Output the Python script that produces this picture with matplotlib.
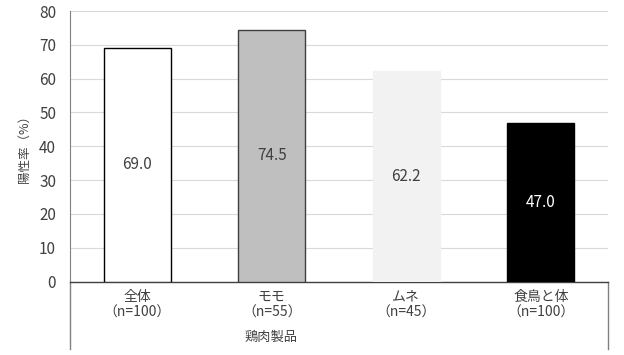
import matplotlib
matplotlib.use('Agg')
import matplotlib.pyplot as plt

plt.rcParams['font.family'] = ['Noto Sans CJK JP', 'DejaVu Sans']

# data
categories = ['全体\n（n=100）', 'モモ\n（n=55）', 'ムネ\n（n=45）', '食鳥と体\n（n=100）']
rates = [69.0, 74.5, 62.2, 47.0]
bar_colors = ['#ffffff', '#bfbfbf', '#f2f2f2', '#000000']
edge_colors = ['#000000', '#404040', '#f2f2f2', '#000000']
label_colors = ['#404040', '#404040', '#404040', '#ffffff']

fig = plt.figure(figsize=(6.24, 3.55), dpi=100)
ax = fig.add_axes([70 / 624, 1 - 281.5 / 355, 538 / 624, 270.5 / 355])

x = range(len(categories))
bars = ax.bar(x, rates, width=0.5, color=bar_colors, edgecolor=edge_colors,
              linewidth=1.0, zorder=3)

for b, v, c in zip(bars, rates, label_colors):
    ax.text(b.get_x() + b.get_width() / 2, v / 2, f'{v:.1f}',
            ha='center', va='center', fontsize=11, color=c, zorder=4)

ax.set_ylim(0, 80)
ax.set_xlim(-0.5, len(categories) - 0.5)
ax.set_yticks(range(0, 81, 10))
ax.yaxis.grid(True, color='#d9d9d9', linewidth=0.8, zorder=0)
ax.tick_params(axis='y', length=0, labelsize=11, labelcolor='#404040', pad=10)
ax.tick_params(axis='x', length=0, labelsize=10, labelcolor='#404040', pad=6)
ax.set_xticks(list(x))
ax.set_xticklabels(categories, linespacing=1.15)

for s in ['top', 'right']:
    ax.spines[s].set_visible(False)
ax.spines['left'].set_color('#808080')
ax.spines['bottom'].set_color('#404040')
ax.spines['bottom'].set_linewidth(1.0)

# category axis box lines going below the plot
ax.plot([0, 0], [0, -67 / 270.5], transform=ax.transAxes, color='#808080',
        linewidth=1.0, clip_on=False)
ax.plot([1, 1], [0, -67 / 270.5], transform=ax.transAxes, color='#808080',
        linewidth=1.0, clip_on=False)

ax.set_ylabel('陽性率（%）', fontsize=9, color='#404040', labelpad=6)
fig.text(271 / 624, 1 - 337 / 355, '鶏肉製品', ha='center', va='center',
         fontsize=9.5, color='#404040')

fig.savefig('out.png', dpi=100)
